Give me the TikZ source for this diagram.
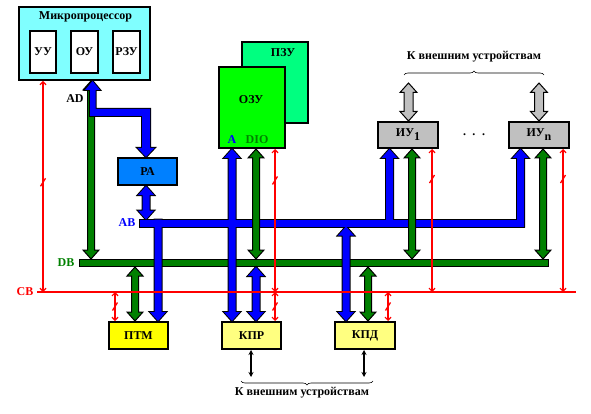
\documentclass[tikz,border=0pt]{standalone}
\usepackage{fontspec}
\setmainfont{Liberation Serif}
\usetikzlibrary{arrows.meta,calc,decorations.markings,decorations.pathreplacing}

\definecolor{mpColor}{RGB}{128,255,255}
\definecolor{pzuColor}{RGB}{0,255,128}
\definecolor{ozuColor}{RGB}{0,255,0}
\definecolor{paColor}{RGB}{0,128,255}
\definecolor{iuColor}{RGB}{192,192,192}
\definecolor{ptmColor}{RGB}{255,255,0}
\definecolor{kprColor}{RGB}{255,255,128}
\definecolor{busBlue}{RGB}{0,0,255}
\definecolor{busGreen}{RGB}{0,128,0}
\definecolor{ctrlColor}{RGB}{255,0,0}

\tikzset{
  shaft/.store in=\shaftw, shaft=3.5,
  head/.store in=\headw, head=8,
  headlen/.store in=\headl, headlen=9,
  both heads/.style={to path={(\tikztostart) -- ++(\headw,\headl) -- ++(\shaftw-\headw,0)
    -- ($(\tikztotarget)+(\shaftw,-\headl)$) -- ++(\headw-\shaftw,0) -- (\tikztotarget)
    -- ++(-\headw,-\headl) -- ++(\headw-\shaftw,0) -- ($(\tikztostart)+(-\shaftw,\headl)$)
    -- ++(\shaftw-\headw,0) -- cycle}},
  head up/.style={to path={(\tikztostart) -- ++(\headw,\headl) -- ++(\shaftw-\headw,0)
    -- ($(\tikztotarget)+(\shaftw,0)$) -- ++(-2*\shaftw,0)
    -- ($(\tikztostart)+(-\shaftw,\headl)$) -- ++(\shaftw-\headw,0) -- cycle}},
  head down/.style={to path={($(\tikztostart)+(-\shaftw,0)$) -- ++(2*\shaftw,0)
    -- ($(\tikztotarget)+(\shaftw,-\headl)$) -- ++(\headw-\shaftw,0) -- (\tikztotarget)
    -- ++(-\headw,-\headl) -- ++(\headw-\shaftw,0) -- cycle}},
  txt/.style={inner sep=0pt, font=\bfseries\fontsize{12}{14}\selectfont},
  box/.style={txt, draw=black, line width=2pt},
  fat/.style={draw=black, line width=1pt, fill=#1},
  bus outline/.style={draw=black, line width=2pt},
  ctrl/.style={draw=ctrlColor, line width=1.2pt,
    {Straight Barb[length=3pt,width=6pt]}-{Straight Barb[length=3pt,width=6pt]},
    postaction={decorate, decoration={markings, mark=at position #1 with
      {\draw[ctrlColor, line width=1.3pt, -] (-4,-2.5) -- (4,2.5);}}}},
  ctrl/.default=0.5,
  ext/.style={line width=1.2pt, {Stealth[length=5pt,width=5pt]}-{Stealth[length=5pt,width=5pt]}},
  brc/.style={decorate, decoration={brace, amplitude=4pt}, line width=0.6pt},
}

% address bus with its taps, drawn twice: outline, then fill
\newcommand\addrbus[1]{%
  \path[#1] (ab.south west) rectangle (ab.north east);
  \path[#1] (mp.south -| 92.5,0) coordinate (adtop) -- ++(7.5,9) -- ++(-4.5,0) -- ++(0,19)
    -| ($(pa.north -| 146,0)+(4,-9)$) -- ++(4.5,0) -- (pa.north -| 146,0) -- ++(-8.5,-9)
    -- ++(4.5,0) |- ($(adtop)+(-2.5,35)$) -- ++(0,-26) -- ++(-5,0) -- cycle;
  \path[#1] (pa.south -| 146,0) to[both heads] (ab.north -| 146,0);
  \path[#1] (ab.north -| 158,0) to[head down] (ptm.north -| 158,0);
  \path[#1] (ozu.south -| 232,0) to[both heads] (kpr.north -| 232,0);
  \path[#1] (db.south -| 256,0) to[both heads] (kpr.north -| 256,0);
  \path[#1] (ab.south -| 346,0) to[both heads] (kpd.north -| 346,0);
  \path[#1] (iu1.south -| 389.5,0) to[head up] (ab.south -| 389.5,0);
  \path[#1] (iun.south -| 520.5,0) to[head up] (ab.south -| 520.5,0);
}

\begin{document}
\begin{tikzpicture}[x=1pt,y=-1pt]
\useasboundingbox (0,0) rectangle (591,414);

% processor
\node[box, fill=mpColor, minimum width=131, minimum height=73] (mp) at (84.5,43.5) {};
\node[txt] (mptitle) at (85.5,17) {Микропроцессор};
\node[box, fill=white, minimum width=26, minimum height=42] (uu) at (43,52) {УУ};
\node[box, fill=white, minimum width=27, minimum height=42] (ou) at (84.5,52) {ОУ};
\node[box, fill=white, minimum width=27, minimum height=42] (rzu) at (126.5,52) {РЗУ};

% memory
\node[box, fill=pzuColor, minimum width=66, minimum height=81] (pzu) at (275,82.5) {};
\node[txt] (pzutxt) at (283,53) {ПЗУ};
\node[box, fill=ozuColor, minimum width=66, minimum height=81] (ozu) at (252,107.5) {};
\node[txt] (ozutxt) at (251,100) {ОЗУ};
\node[txt, text=busBlue] (ozua) at (232,140) {A};
\node[txt, text=busGreen] (ozudio) at (257,140) {DIO};

\node[box, fill=paColor, minimum width=59, minimum height=27] (pa) at (147.5,171.5) {РА};

% devices
\node[box, fill=iuColor, minimum width=60, minimum height=26] (iu1) at (408,135) {ИУ\raisebox{-4pt}{1}};
\node[box, fill=iuColor, minimum width=60, minimum height=26] (iun) at (539,135) {ИУ\raisebox{-4pt}{n}};
\node[txt] (dots) at (474,135) {.\hspace{6.5pt}.\hspace{6.5pt}.};

\node[box, fill=ptmColor, minimum width=59, minimum height=27] (ptm) at (138.5,335.5) {ПТМ};
\node[box, fill=kprColor, minimum width=59, minimum height=27] (kpr) at (251.5,335.5) {КПР};
\node[box, fill=kprColor, minimum width=60, minimum height=27] (kpd) at (365,335.5) {КПД};

% data bus
\node[fill=busGreen, draw=black, line width=1pt, inner sep=0pt, minimum width=469, minimum height=7] (db) at (314,263) {};
\node[inner sep=0pt, outer sep=0pt, minimum width=384, minimum height=7] (ab) at (332,223) {};

\path[fat=busGreen] (mp.south -| 91,0) to[both heads] (db.north -| 91,0);

% address bus
\addrbus{bus outline}
\addrbus{fill=busBlue}

\path[fat=busGreen] (db.south -| 135,0) to[both heads] (ptm.north -| 135,0);
\path[fat=busGreen] (ozu.south -| 256,0) to[both heads] (db.north -| 256,0);
\path[fat=busGreen] (db.south -| 368,0) to[both heads] (kpd.north -| 368,0);
\path[fat=busGreen] (iu1.south -| 412,0) to[both heads] (db.north -| 412,0);
\path[fat=busGreen] (iun.south -| 543,0) to[both heads] (db.north -| 543,0);

% outside world
\coordinate (ext1) at (408.5,83);
\coordinate (ext2) at (539,83);
\path[fat=iuColor, shaft=4.5, head=8.5, headlen=9.5] (ext1) to[both heads] (iu1.north -| ext1);
\path[fat=iuColor, shaft=4.5, head=8.5, headlen=9.5] (ext2) to[both heads] (iun.north -| ext2);
\coordinate (ext3) at (251,377);
\coordinate (ext4) at (364,377);
\draw[ext] (kpr.south -| ext3) -- (ext3);
\draw[ext] (kpd.south -| ext4) -- (ext4);

% control bus
\coordinate (cbw) at (37,292);
\coordinate (cbe) at (576,292);
\draw[ctrl=0.48] (mp.south -| 43,0) -- (cbw -| 43,0);
\draw[ctrl] (cbw -| 115,0) -- (ptm.north -| 115,0);
\draw[ctrl=0.22] (ozu.south -| 275,0) -- (cbw -| 275,0);
\draw[ctrl] (cbw -| 275,0) -- (kpr.north -| 275,0);
\draw[ctrl] (cbw -| 388,0) -- (kpd.north -| 388,0);
\draw[ctrl=0.21] (iu1.south -| 432,0) -- (cbw -| 432,0);
\draw[ctrl=0.21] (iun.south -| 563,0) -- (cbw -| 563,0);
\draw[draw=ctrlColor, line width=1.2pt] (cbw) -- (cbe);

% bus names
\node[txt] (adlbl) at (75,99) {AD};
\node[txt, text=busBlue] (ablbl) at (127,223) {AB};
\node[txt, text=busGreen] (dblbl) at (66,263) {DB};
\node[txt, text=ctrlColor] (cblbl) at (25,292) {CB};

% braces
\coordinate (br1a) at (404,75);
\coordinate (br1b) at (544,75);
\draw[brc] (br1a) -- (br1b);
\node[txt] (exttop) at (474,57) {К внешним устройствам};
\coordinate (br2a) at (373,381);
\coordinate (br2b) at (241,381);
\draw[brc] (br2a) -- (br2b);
\node[txt] (extbot) at (302,393) {К внешним устройствам};
\end{tikzpicture}
\end{document}
